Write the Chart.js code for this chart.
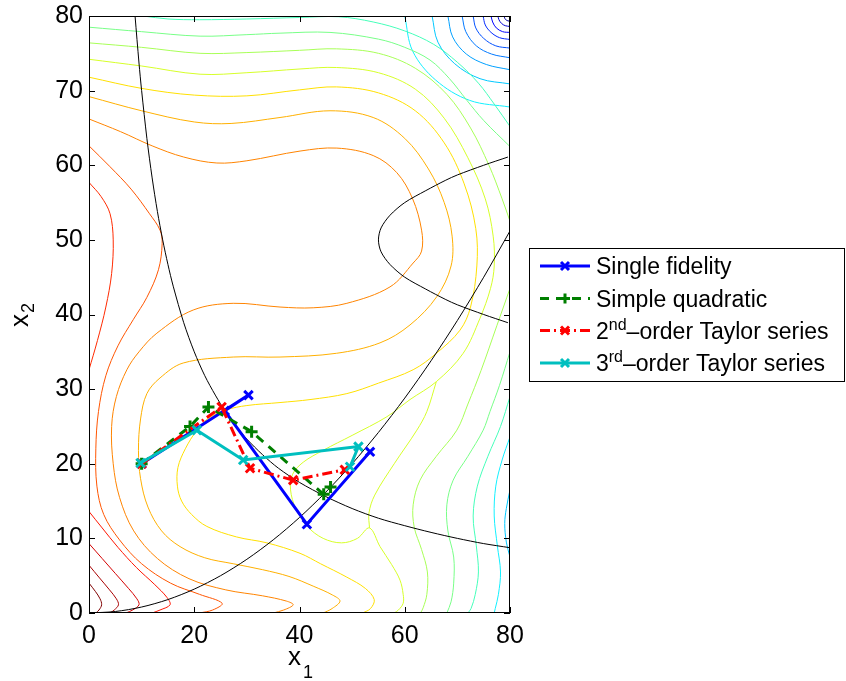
<!DOCTYPE html>
<html>
<head>
<meta charset="utf-8">
<script src="https://cdn.jsdelivr.net/npm/chart.js@4/dist/chart.umd.min.js"></script>
<style>
  html, body { margin: 0; padding: 0; background: #fff; }
  #wrap { width: 846px; height: 681px; position: relative; }
</style>
</head>
<body>
<div id="wrap"><canvas id="chart" width="846" height="681"></canvas></div>
<script>
// optimisation paths (x1, x2)
const singleFidelity = [[10, 20], [30.3, 29.2], [25.8, 27.1], [41.4, 11.9], [53.4, 21.6]];
const simpleQuadratic = [[10, 20], [19.2, 25.0], [22.7, 27.6], [30.9, 24.3], [44.6, 15.9], [45.9, 16.9]];
const taylor2 = [[10, 20], [25.2, 27.6], [30.6, 19.4], [38.8, 17.8], [48.6, 19.2]];
const taylor3 = [[9.8, 20.1], [20.5, 24.5], [29.3, 20.5], [51.2, 22.3], [49.6, 19.6]];

// constraint boundaries
const g1 = [[8.75, 80], [9.5, 73.7], [10, 70], [11, 63.6], [12, 58.3], [13, 53.8], [14, 50], [15, 46.7], [16, 43.8], [18, 38.9], [20, 35], [22, 31.8], [24, 29.2], [26, 26.9], [28, 25], [30, 23.3], [33, 21.2], [36, 19.4], [40, 17.5], [45, 15.6], [50, 14], [55, 12.7], [60, 11.7], [65, 10.8], [70, 10], [75, 9.3], [80, 8.75]];
const g2 = [[0, 0], [5, 0.2], [10, 0.8], [15, 1.8], [20, 3.2], [25, 5], [30, 7.2], [35, 9.8], [40, 12.8], [45, 16.2], [50, 20], [55, 24.2], [60, 28.8], [65, 33.8], [70, 39.2], [75, 45], [80, 51.2]];
const g3 = [[79.6, 38.9], [75, 40], [70, 41.3], [67.8, 42], [64, 43.4], [60, 45], [57.2, 46.7], [55.5, 48.4], [55, 50], [55.5, 51.6], [57.2, 53.3], [60, 55], [64, 56.6], [67.8, 58], [70, 58.7], [75, 60], [79.6, 61.1]];

// contour lines, dark red -> dark blue
const cA1 = [[0, 4.0], [1.2, 2.9], [2.1, 1.9], [2.4, 1.1], [1.9, 0.4], [1.3, 0]];
const cA2 = [[0, 6.4], [2, 4.7], [3.9, 3.1], [5.2, 1.9], [5.6, 1.1], [4.8, 0.4], [4, 0]];
const cA3 = [[0, 9.3], [2.5, 7.3], [5, 5.3], [7.5, 3.3], [9.1, 1.9], [9.5, 1.1], [8.3, 0.4], [7, 0]];
const cA4 = [[0, 13.6], [2.5, 11.4], [5.5, 8.8], [9, 6.1], [12.5, 3.8], [14.8, 2.1], [15.4, 1.1], [13.5, 0.4], [12, 0]];
const cB = [[0, 32.6], [1.6, 36.5], [3.2, 41], [4.3, 45.5], [4.6, 50], [4, 53.5], [2.3, 55.8], [0, 57.7]];
const cC = [[0, 62.6], [4, 59.8], [8, 56.8], [11.5, 53.5], [13.5, 51.3], [13.9, 49.5], [13.2, 46], [11, 42.3], [8.4, 39.3], [5.5, 35.8], [3.2, 31.8], [1.8, 27], [1.3, 22], [1.5, 17], [2.8, 13.2], [5.8, 9.8], [10, 6.6], [15.5, 4], [21, 2.5], [25.3, 1.3], [23.5, 0.4], [21, 0]];
const cD = [[0, 66.2], [6, 64.5], [12, 62.6], [18, 61.1], [24.3, 60.3], [30, 60.6], [40.1, 61.9], [47.1, 62.3], [54, 61.3], [58.5, 59], [61.5, 55.5], [63.2, 51.3], [63.2, 48.5], [61.6, 46.9], [57.2, 43.7], [49, 41.5], [42.6, 40.9], [36.3, 41.0], [27.4, 41.5], [19.8, 40.6], [12.9, 37.5], [9.5, 35], [7.2, 32.6], [5.2, 29], [4.3, 25], [4.6, 20], [5.8, 15.5], [8.5, 11], [13, 7.3], [19, 4.6], [26, 3.1], [33, 2.3], [37.5, 1.6], [38.8, 1.1], [37, 0.4], [35, 0]];
const cE = [[0, 69.2], [10, 67.3], [20, 65.8], [27, 65.6], [36.3, 66.4], [45.8, 67.3], [54, 66.4], [60, 63.6], [64.5, 59.5], [67.5, 55], [69, 50.5], [68.8, 46.5], [66.1, 42.4], [61, 38.6], [55.3, 36.2], [47, 34.8], [36.3, 34.3], [27.4, 34.3], [17.9, 33.5], [13.5, 31.5], [11, 29.4], [9.8, 26], [9.4, 21.8], [9.8, 18], [11.2, 14.2], [13.8, 11], [17.3, 8.9], [22, 7.4], [27.4, 6.6], [33, 5.8], [38, 4.9], [42.6, 3.6], [46.3, 2.4], [47.7, 1.6], [46.2, 0.6], [44.5, 0]];
const cF = [[0, 71.8], [10, 70.3], [20, 69.4], [30, 69.3], [40, 70.1], [47, 70.5], [55, 69.7], [62, 67.3], [67.5, 63], [71.3, 57.5], [73.5, 51.5], [73.7, 46.5], [72.5, 41], [70.5, 37.9], [66, 34.8], [61.6, 32.6], [55, 30.8], [49, 29.4], [42, 28.6], [36.3, 28.2], [30, 27.8], [26, 27.2], [22.5, 26], [20.5, 24.5], [18.3, 22], [16.9, 19.5], [16.8, 17], [17.6, 15], [19.5, 13.2], [22.4, 11.6], [28, 10.2], [33.8, 9.4], [40.1, 8.0], [44, 6.6], [49, 4.8], [52.5, 3.3], [54.2, 1.8], [53.5, 0.6], [52, 0]];
const cG1 = [[0, 74.2], [10, 73.3], [21.1, 72.2], [30, 72.4], [40.1, 72.9], [47, 73.1], [55, 72.4], [62, 70.2], [67.5, 66.3], [72, 61], [75.3, 55.5], [76.8, 50.5], [77, 46.5], [76.3, 43.5], [74.3, 39.5], [71.1, 34.8], [66, 31], [61, 28.6], [56.6, 26.3], [50, 23.8], [44.5, 21.8], [40.7, 20.2], [38.7, 18.6], [38.3, 16.5], [39.3, 14], [41.5, 11.6], [44.5, 10], [48, 9.4], [51, 10], [53.3, 11.4], [55.3, 8.9], [57.5, 6.5], [59.1, 4.4], [59.7, 2.5], [59.7, 1.3], [58.8, 0.4], [58, 0]];
const cG2 = [[66, 31], [64.2, 27], [62.3, 24.5], [58, 20], [54.3, 15.8], [53.2, 13.4], [53.3, 11.4]];
const cH1 = [[0, 76.4], [10, 75.8], [21.1, 75.0], [30, 75.1], [40, 75.4], [47, 75.6], [55, 75], [62, 73], [68, 69.5], [72.5, 65], [76, 60], [78.5, 55.5], [80, 52.5]];
const cH2 = [[80, 43.5], [77.5, 38.5], [74.5, 32.5], [72, 28], [69.9, 24.5], [66, 21], [62.9, 17.8], [61.6, 14.5], [61.8, 11.5], [63.2, 8.5], [64.3, 5.5], [64.2, 2.5], [63.5, 0.7], [63, 0]];
const cI1 = [[0, 78.5], [10, 77.9], [21.1, 77.3], [30, 77.5], [36.3, 77.7], [45.8, 77.8], [55, 76.9], [60, 75.8], [64.8, 74.1], [68.5, 71.6], [71.8, 68.7], [75, 66], [80, 62.5]];
const cI2 = [[80, 35], [78, 30.5], [76.2, 27], [74.9, 24.5], [72, 21], [69.2, 17.8], [68, 14.5], [68.2, 11], [69.3, 7.5], [69.3, 4], [68.8, 1.5], [68, 0]];
const cJ1 = [[10.3, 80], [15, 79.6], [21, 79.5], [30, 79.6], [40, 79.8], [47.4, 79.9], [54, 79.2], [60, 78], [65.5, 76.2], [70, 73.8], [74, 71], [77, 68.2], [80, 65.2]];
const cJ2 = [[80, 29], [78.2, 25], [75.8, 21], [73.8, 17], [73, 13], [73.6, 9], [74, 5.5], [73.4, 2.5], [72.6, 0.6], [72, 0]];
const cK1 = [[60, 80], [61.5, 75.3], [65.9, 71.4], [72.3, 68.7], [80, 67.8]];
const cK2 = [[80, 23.6], [78.5, 20.5], [77.3, 17], [77, 13], [77.6, 9], [78.2, 5.5], [77.8, 2.5], [77.2, 0.6], [77, 0]];
const cL1 = [[65.2, 80], [66.3, 76.5], [69.5, 73.6], [74.3, 71.6], [80, 70.9]];
const cL2 = [[80, 16.5], [79.3, 14], [79, 12], [79.3, 9.5], [80, 7.5]];
const cM = [[68.2, 80], [69.1, 77.2], [71.7, 74.9], [75.5, 73.5], [80, 72.8]];
const cN = [[70.9, 80], [71.6, 77.9], [73.6, 76], [76.5, 74.9], [80, 74.4]];
const cO = [[73, 80], [73.5, 78.4], [75, 77], [77.3, 76.0], [80, 75.7]];
const cP = [[74.9, 80], [75.3, 78.8], [76.4, 77.8], [78, 77.1], [80, 76.85]];
const cQ = [[76.4, 80], [76.7, 79.2], [77.4, 78.4], [78.6, 77.9], [80, 77.8]];
const cR = [[77.7, 80], [77.9, 79.5], [78.4, 79], [79.1, 78.7], [80, 78.6]];
const cS = [[78.9, 80], [79, 79.7], [79.2, 79.5], [79.6, 79.35], [80, 79.3]];

const contourLines = [cA1, cA2, cA3, cA4, cB, cC, cD, cE, cF, cG1, cG2, cH1, cH2, cI1, cI2, cJ1, cJ2, cK1, cK2, cL1, cL2, cM, cN, cO, cP, cQ, cR, cS];
const contourColors = ['#800000', '#a80000', '#d40000', '#ff1500', '#ff2a00', '#ff5500', '#ff8400', '#ffb000', '#ffe000', '#d6ff29', '#d6ff29', '#a8ff57', '#a8ff57', '#78ff87', '#78ff87', '#45ffba', '#45ffba', '#12f0ff', '#12f0ff', '#00c8ff', '#00c8ff', '#00a0ff', '#0078ff', '#0050ff', '#0028ff', '#0000ff', '#0000d0', '#0000a0'];

const toXY = arr => arr.map(p => ({ x: p[0], y: p[1] }));

const datasets = [];
const pathStyle = [
  { label: 'Single fidelity', data: singleFidelity, color: '#0000ff', dash: [], marker: 'crossRot' },
  { label: 'Simple quadratic', data: simpleQuadratic, color: '#007f00', dash: [9, 7], marker: 'cross' },
  { label: '2nd-order Taylor series', data: taylor2, color: '#ff0000', dash: [10, 4, 2, 4], marker: 'crossRot' },
  { label: '3rd-order Taylor series', data: taylor3, color: '#00bfbf', dash: [], marker: 'crossRot' }
];
pathStyle.forEach((s, i) => {
  datasets.push({
    label: s.label,
    data: toXY(s.data),
    showLine: true,
    borderColor: s.color,
    borderWidth: 3,
    borderDash: s.dash,
    pointStyle: s.marker,
    pointRadius: 6,
    pointBorderWidth: 3,
    pointBorderColor: s.color,
    pointBackgroundColor: s.color,
    order: 4 - i
  });
});
[g1, g2, g3].forEach(g => {
  datasets.push({
    data: toXY(g), showLine: true, borderColor: '#000', borderWidth: 1,
    pointRadius: 0, tension: 0.3, order: 10
  });
});
contourLines.forEach((c, i) => {
  datasets.push({
    data: toXY(c), showLine: true, borderColor: contourColors[i], borderWidth: 1,
    pointRadius: 0, tension: 0.35, order: 20
  });
});

const FONT = '"Liberation Sans", Arial, Helvetica, sans-serif';

const decor = {
  id: 'decor',
  afterDraw(chart) {
    const { ctx, chartArea: a, scales } = chart;
    const xs = scales.x, ys = scales.y;
    ctx.save();
    // frame + inward ticks on all four sides
    ctx.strokeStyle = '#000';
    ctx.lineWidth = 1;
    ctx.strokeRect(a.left + 0.5, a.top + 0.5, a.right - a.left - 1, a.bottom - a.top - 1);
    ctx.beginPath();
    xs.ticks.forEach(t => {
      const px = Math.round(xs.getPixelForValue(t.value)) + 0.5;
      ctx.moveTo(px, a.bottom); ctx.lineTo(px, a.bottom - 6);
      ctx.moveTo(px, a.top); ctx.lineTo(px, a.top + 6);
    });
    ys.ticks.forEach(t => {
      const py = Math.round(ys.getPixelForValue(t.value)) + 0.5;
      ctx.moveTo(a.left, py); ctx.lineTo(a.left + 6, py);
      ctx.moveTo(a.right, py); ctx.lineTo(a.right - 6, py);
    });
    ctx.stroke();

    // axis labels with subscripts
    ctx.fillStyle = '#000';
    ctx.textBaseline = 'alphabetic';
    ctx.font = '26px ' + FONT;
    ctx.fillText('x', 288, 665);
    ctx.font = '18px ' + FONT;
    ctx.fillText('1', 303, 678);
    ctx.save();
    ctx.translate(28, 327);
    ctx.rotate(-Math.PI / 2);
    ctx.font = '26px ' + FONT;
    ctx.fillText('x', 0, 0);
    ctx.font = '18px ' + FONT;
    ctx.fillText('2', 14, 6);
    ctx.restore();

    // legend box
    const L = { x: 529.5, y: 248.5, w: 315, h: 133 };
    ctx.fillStyle = '#fff';
    ctx.fillRect(L.x, L.y, L.w, L.h);
    ctx.strokeStyle = '#000';
    ctx.lineWidth = 1;
    ctx.strokeRect(L.x, L.y, L.w, L.h);
    const rows = [266, 298.5, 330.5, 363];
    pathStyle.forEach((s, i) => {
      const y = rows[i];
      ctx.save();
      ctx.strokeStyle = s.color;
      ctx.lineWidth = 3;
      ctx.setLineDash(s.dash);
      ctx.beginPath();
      ctx.moveTo(540, y); ctx.lineTo(590, y);
      ctx.stroke();
      ctx.setLineDash([]);
      ctx.beginPath();
      if (s.marker === 'cross') {
        ctx.moveTo(565, y - 5); ctx.lineTo(565, y + 5);
        ctx.moveTo(560, y); ctx.lineTo(570, y);
      } else {
        ctx.moveTo(561, y - 4); ctx.lineTo(569, y + 4);
        ctx.moveTo(569, y - 4); ctx.lineTo(561, y + 4);
      }
      ctx.stroke();
      ctx.restore();
    });
    ctx.fillStyle = '#000';
    ctx.font = '23px ' + FONT;
    ctx.fillText('Single fidelity', 596, rows[0] + 8);
    ctx.fillText('Simple quadratic', 596, rows[1] + 8);
    const supLine = (num, sup, rest, y) => {
      let x = 596;
      ctx.font = '23px ' + FONT;
      ctx.fillText(num, x, y + 8);
      x += ctx.measureText(num).width;
      ctx.font = '16px ' + FONT;
      ctx.fillText(sup, x, y - 1);
      x += ctx.measureText(sup).width;
      ctx.font = '23px ' + FONT;
      ctx.fillText(rest, x, y + 8);
    };
    supLine('2', 'nd', '\u2013order Taylor series', rows[2]);
    supLine('3', 'rd', '\u2013order Taylor series', rows[3]);
    ctx.restore();
  }
};

new Chart(document.getElementById('chart'), {
  type: 'scatter',
  data: { datasets },
  options: {
    responsive: false,
    animation: false,
    layout: { padding: { left: 0, right: 336, top: 16, bottom: 0 } },
    plugins: { legend: { display: false }, tooltip: { enabled: false } },
    scales: {
      x: {
        type: 'linear', min: 0, max: 80,
        ticks: { stepSize: 20, color: '#000', padding: 8, font: { family: FONT, size: 25 } },
        grid: { display: false, drawTicks: false },
        border: { display: false },
        afterFit: s => { s.height = 68; }
      },
      y: {
        type: 'linear', min: 0, max: 80,
        ticks: { stepSize: 10, color: '#000', padding: 6, font: { family: FONT, size: 25 } },
        grid: { display: false, drawTicks: false },
        border: { display: false },
        afterFit: s => { s.width = 89; s.paddingTop = 0; s.paddingBottom = 0; }
      }
    }
  },
  plugins: [decor]
});
</script>
</body>
</html>
